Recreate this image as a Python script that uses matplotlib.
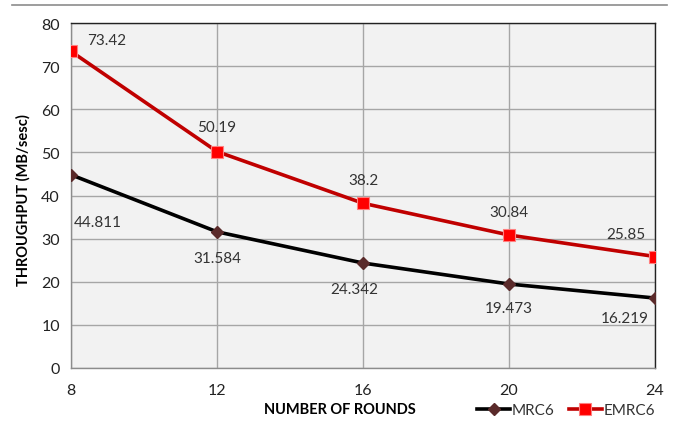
import matplotlib
matplotlib.use("Agg")
import matplotlib.pyplot as plt
from matplotlib.lines import Line2D

rounds = [8, 12, 16, 20, 24]
mrc6 = [44.811, 31.584, 24.342, 19.473, 16.219]
emrc6 = [73.42, 50.19, 38.2, 30.84, 25.85]
mrc6_labels = ["44.811", "31.584", "24.342", "19.473", "16.219"]
emrc6_labels = ["73.42", "50.19", "38.2", "30.84", "25.85"]

plt.rcParams['font.family'] = ['Lato', 'DejaVu Sans']

fig = plt.figure(figsize=(6.77, 4.27), dpi=100)
ax = fig.add_axes([71/677, 1 - 369/427, (655-71)/677, (369-24)/427])
ax.set_facecolor('#f2f2f2')

# decorative top rule
fig.add_artist(Line2D([12/677, 667/677], [1 - 6/427, 1 - 6/427],
                      color='#8c8c8c', lw=1.2, transform=fig.transFigure))

ax.plot(rounds, mrc6, color='black', lw=2.6, marker='D', ms=6,
        mfc='#5a2a2a', mec='#5a2a2a', label='MRC6', zorder=3)
ax.plot(rounds, emrc6, color='#c00000', lw=2.6, marker='s', ms=9,
        mfc='#ff0000', mec='#ff8080', mew=0.8, label='EMRC6', zorder=3)

ax.set_xlim(8, 24)
ax.set_ylim(0, 80)
ax.set_xticks(rounds)
ax.set_yticks(range(0, 81, 10))
ax.grid(True, color='#a6a6a6', lw=1.0)
ax.set_axisbelow(True)
ax.tick_params(length=0, labelsize=11.5, colors='#222222', pad=8)
ax.tick_params(axis='x', pad=11)

for side in ['top', 'right']:
    ax.spines[side].set_color('#222222')
    ax.spines[side].set_linewidth(1.0)
for side in ['left', 'bottom']:
    ax.spines[side].set_color('#8c8c8c')
    ax.spines[side].set_linewidth(1.0)

ax.set_ylabel('THROUGHPUT (MB/sesc)', fontsize=10.5, fontweight='bold')
ax.yaxis.set_label_coords(-0.081, 0.49)
ax.set_xlabel('NUMBER OF ROUNDS', fontsize=10.5, fontweight='bold')
ax.xaxis.set_label_coords(0.46, -0.119)
ax.xaxis.label.set_va('center')
ax.yaxis.label.set_va('center')

mrc6_off = [(19.5, -34), (0, -19), (-6, -19), (0, -17), (-22, -14)]
emrc6_off = [(26, 8), (0, 18), (0, 16.5), (0, 16.5), (-21, 16)]
for x, y, t, o in zip(rounds, mrc6, mrc6_labels, mrc6_off):
    ax.annotate(t, (x, y), xytext=o, textcoords='offset points',
                ha='center', va='center', fontsize=11, color='#333333')
for x, y, t, o in zip(rounds, emrc6, emrc6_labels, emrc6_off):
    ax.annotate(t, (x, y), xytext=o, textcoords='offset points',
                ha='center', va='center', fontsize=11, color='#333333')

fig.legend(loc='center', bbox_to_anchor=(566/677, 1 - 411/427), ncol=2,
           frameon=False, fontsize=11, handlelength=2.2, columnspacing=0.9,
           handletextpad=0.1, labelcolor='#333333')

fig.savefig('out.png', dpi=100)
